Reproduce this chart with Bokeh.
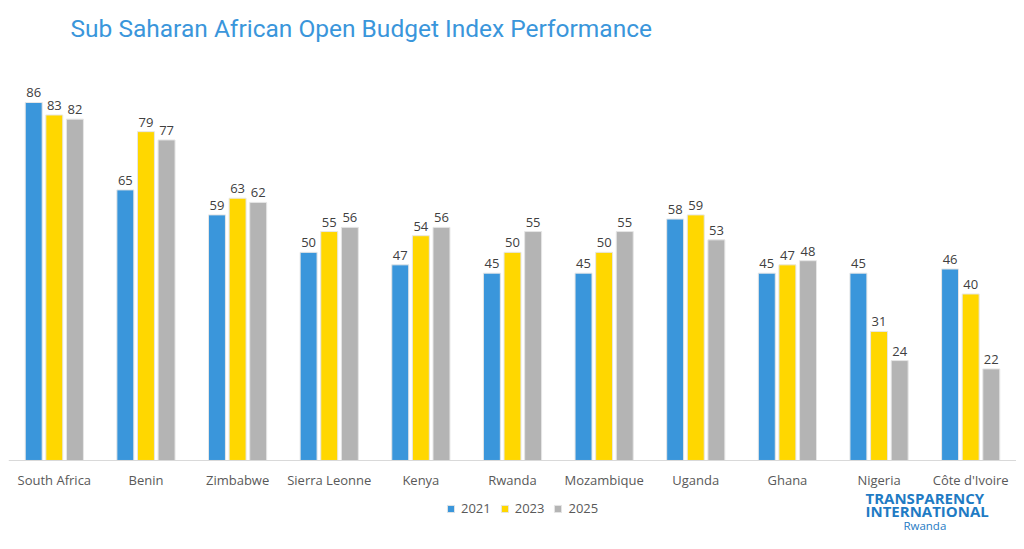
from bokeh.plotting import figure
from bokeh.models import ColumnDataSource, FactorRange, Label, Legend, LegendItem, Span
from bokeh.transform import dodge
from bokeh.core.properties import value
from bokeh.embed import file_html
from bokeh.resources import INLINE

countries = ["South Africa", "Benin", "Zimbabwe", "Sierra Leonne", "Kenya", "Rwanda",
             "Mozambique", "Uganda", "Ghana", "Nigeria", "Côte d'Ivoire"]
years = ["2021", "2023", "2025"]
v2021 = [86, 65, 59, 50, 47, 45, 45, 58, 45, 45, 46]
v2023 = [83, 79, 63, 55, 54, 50, 50, 59, 47, 31, 40]
v2025 = [82, 77, 62, 56, 56, 55, 55, 53, 48, 24, 22]
colors = ["#3A96DB", "#FFD700", "#B4B4B4"]

src = ColumnDataSource(dict(cat=countries, v2021=v2021, v2023=v2023, v2025=v2025,
                            zero=[0] * len(countries),
                            t2021=[str(v) for v in v2021],
                            t2023=[str(v) for v in v2023],
                            t2025=[str(v) for v in v2025]))

p = figure(width=1016, height=533, x_range=FactorRange(*countries), y_range=(-17.54, 110.5),
           output_backend="svg", toolbar_location=None,
           x_axis_location=None, y_axis_location=None,
           min_border=0, min_border_left=8)
p.outline_line_color = None
p.xgrid.visible = False
p.ygrid.visible = False

# baseline (category axis line)
p.add_layout(Span(location=0, dimension="width", line_color="#D9D9D9", line_width=1))

offsets = [-0.225, 0.0, 0.225]
items = []
for yr, off, col in zip(years, offsets, colors):
    r = p.vbar(x=dodge("cat", off, range=p.x_range), top="v" + yr, width=0.185, source=src,
               fill_color=col, line_color="#E6E6E6", line_width=1)
    p.text(x=dodge("cat", off, range=p.x_range), y="v" + yr, text="t" + yr, source=src,
           text_align="center", text_baseline="bottom", y_offset=-5,
           text_font=value("Open Sans"), text_font_size="13px", text_color="#404040")
    items.append(LegendItem(label=yr, renderers=[r]))

# category labels on the x scale
p.text(x="cat", y="zero", text="cat", source=src, text_align="center", text_baseline="middle",
       y_offset=20, text_font=value("Open Sans"), text_font_size="13px", text_color="#595959")

legend = Legend(items=items, orientation="horizontal", location=(438, 16),
                label_text_font="Open Sans", label_text_font_size="13px",
                label_text_color="#595959", glyph_width=9, glyph_height=9,
                label_standoff=6, spacing=9, padding=2, margin=0,
                border_line_color=None, background_fill_alpha=0)
p.add_layout(legend, "center")

p.add_layout(Label(x=0.677, y=103.8, text="Sub Saharan African Open Budget Index Performance",
                   text_font="Roboto", text_font_size="24.5px", text_color="#3A96DB",
                   text_baseline="middle"))

p.add_layout(Label(x=9.352, y=-9.13, text="TRANSPARENCY",
                   text_font="Open Sans", text_font_style="bold", text_font_size="15px",
                   text_color="#1F7BC4", text_baseline="middle"))
p.add_layout(Label(x=9.352, y=-12.25, text="INTERNATIONAL",
                   text_font="Open Sans", text_font_style="bold", text_font_size="15px",
                   text_color="#1F7BC4", text_baseline="middle"))
p.add_layout(Label(x=9.766, y=-15.61, text="Rwanda",
                   text_font="Open Sans", text_font_size="11.5px",
                   text_color="#1F7BC4", text_baseline="middle"))

open("out.html", "w").write(file_html(p, INLINE))
